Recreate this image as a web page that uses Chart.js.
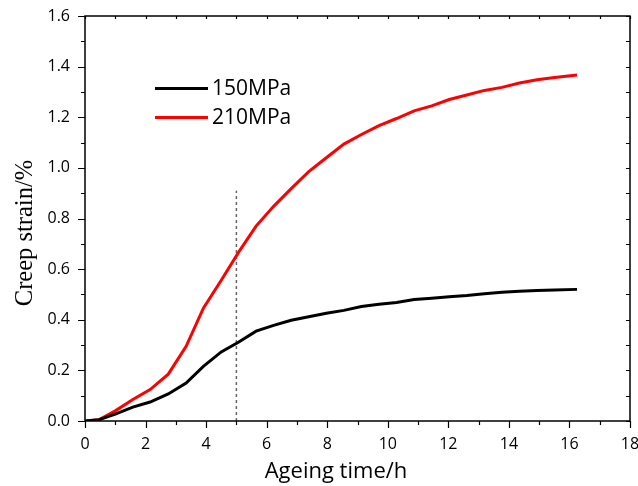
<!DOCTYPE html>
<html>
<head>
<meta charset="utf-8">
<script src="https://cdn.jsdelivr.net/npm/chart.js@4/dist/chart.umd.min.js"></script>
<style>
  html, body { margin: 0; padding: 0; background: #fff; }
  #wrap { width: 638px; height: 486px; position: relative; }
</style>
</head>
<body>
<div id="wrap"><canvas id="chart" width="638" height="486"></canvas></div>
<script>
// ageing time (h) and creep strain (%)
const times = [0, 0.46, 1.0, 1.58, 2.15, 2.75, 3.34, 3.91, 4.5, 5.08, 5.65, 6.23, 6.81, 7.39, 7.97,
  8.55, 9.13, 9.71, 10.29, 10.87, 11.45, 12.03, 12.61, 13.19, 13.77, 14.35, 14.93, 15.51, 16.25];
const strain150 = [0, 0.005, 0.027, 0.055, 0.075, 0.107, 0.15, 0.216, 0.273, 0.312, 0.355, 0.378, 0.398, 0.412, 0.426,
  0.437, 0.452, 0.461, 0.468, 0.48, 0.485, 0.491, 0.496, 0.503, 0.509, 0.513, 0.516, 0.518, 0.52];
const strain210 = [0, 0.005, 0.04, 0.085, 0.124, 0.185, 0.295, 0.446, 0.556, 0.668, 0.77, 0.848, 0.918, 0.985, 1.04,
  1.094, 1.132, 1.167, 1.195, 1.225, 1.245, 1.27, 1.288, 1.306, 1.318, 1.335, 1.348, 1.357, 1.367];
const seriesLabels = ["150MPa", "210MPa"];
const seriesColors = ["#000000", "#ff0000"];
// dotted marker at t = 5 h
const markerX = [5, 5];
const markerY = [0, 0.91];

const xMin = 0, xMax = 18, xStep = 2, xMinor = 1;
const yMin = 0, yMax = 1.6, yStep = 0.2, yMinor = 0.1;

const pts = (xs, ys) => xs.map((x, i) => ({ x: x, y: ys[i] }));

const frame = {
  id: "frame",
  afterDraw(chart) {
    const ctx = chart.ctx;
    const a = chart.chartArea;
    const sx = chart.scales.x, sy = chart.scales.y;
    ctx.save();
    ctx.strokeStyle = "#000";
    ctx.lineWidth = 1.5;
    ctx.strokeRect(a.left, a.top, a.right - a.left, a.bottom - a.top);

    ctx.lineWidth = 1.2;
    ctx.beginPath();
    for (let v = xMin; v <= xMax + 1e-9; v += xMinor) {
      const px = Math.round(sx.getPixelForValue(v)) + 0.5;
      const major = Math.abs(v / xStep - Math.round(v / xStep)) < 1e-6;
      ctx.moveTo(px, a.bottom);
      ctx.lineTo(px, a.bottom + (major ? 7 : 4));
      ctx.moveTo(px, a.top);
      ctx.lineTo(px, a.top + 3);
    }
    for (let v = yMin; v <= yMax + 1e-9; v += yMinor) {
      const py = Math.round(sy.getPixelForValue(v)) + 0.5;
      const major = Math.abs(v / yStep - Math.round(v / yStep)) < 1e-6;
      ctx.moveTo(a.left, py);
      ctx.lineTo(a.left - (major ? 7 : 4), py);
      ctx.moveTo(a.right, py);
      ctx.lineTo(a.right - 4, py);
    }
    ctx.stroke();

    // axis titles
    ctx.fillStyle = "#000";
    ctx.font = "22px 'Open Sans'";
    ctx.textAlign = "center";
    ctx.textBaseline = "alphabetic";
    ctx.fillText("Ageing time/h", 336, 478);

    ctx.save();
    ctx.translate(32, 233);
    ctx.rotate(-Math.PI / 2);
    ctx.font = "24.5px 'Liberation Serif'";
    ctx.fillText("Creep strain/%", 0, 0);
    ctx.restore();

    // legend
    ctx.font = "21px 'Open Sans'";
    ctx.textAlign = "left";
    ctx.textBaseline = "middle";
    ctx.lineWidth = 3;
    seriesLabels.forEach((lab, i) => {
      const y = 88.5 + i * 29;
      ctx.strokeStyle = seriesColors[i];
      ctx.beginPath();
      ctx.moveTo(155, y);
      ctx.lineTo(208, y);
      ctx.stroke();
      ctx.fillText(lab, 212, y + 1);
    });
    ctx.restore();
  }
};

new Chart(document.getElementById("chart"), {
  type: "line",
  data: {
    datasets: [
      {
        label: seriesLabels[0],
        data: pts(times, strain150),
        borderColor: seriesColors[0],
        borderWidth: 3,
        pointRadius: 0,
        tension: 0
      },
      {
        label: seriesLabels[1],
        data: pts(times, strain210),
        borderColor: seriesColors[1],
        borderWidth: 3,
        pointRadius: 0,
        tension: 0
      },
      {
        label: "marker",
        data: pts(markerX, markerY),
        borderColor: "#666666",
        borderWidth: 1.5,
        borderDash: [3, 3],
        pointRadius: 0
      }
    ]
  },
  options: {
    responsive: false,
    animation: false,
    layout: { padding: { left: 0, right: 8, top: 16, bottom: 0 } },
    plugins: {
      legend: { display: false },
      tooltip: { enabled: false }
    },
    scales: {
      x: {
        type: "linear",
        min: xMin,
        max: xMax,
        grid: { display: false, drawTicks: false },
        border: { display: false },
        afterFit: (s) => { s.height = 65; s.paddingLeft = 0; s.paddingRight = 0; },
        ticks: {
          stepSize: xStep,
          padding: 14,
          color: "#000",
          font: { family: "'Open Sans'", size: 16 }
        }
      },
      y: {
        min: yMin,
        max: yMax,
        grid: { display: false, drawTicks: false },
        border: { display: false },
        afterFit: (s) => { s.width = 85; s.paddingTop = 0; s.paddingBottom = 0; },
        ticks: {
          stepSize: yStep,
          padding: 15,
          color: "#000",
          font: { family: "'Open Sans'", size: 16 },
          callback: (v) => v.toFixed(1)
        }
      }
    }
  },
  plugins: [frame]
});
</script>
</body>
</html>
